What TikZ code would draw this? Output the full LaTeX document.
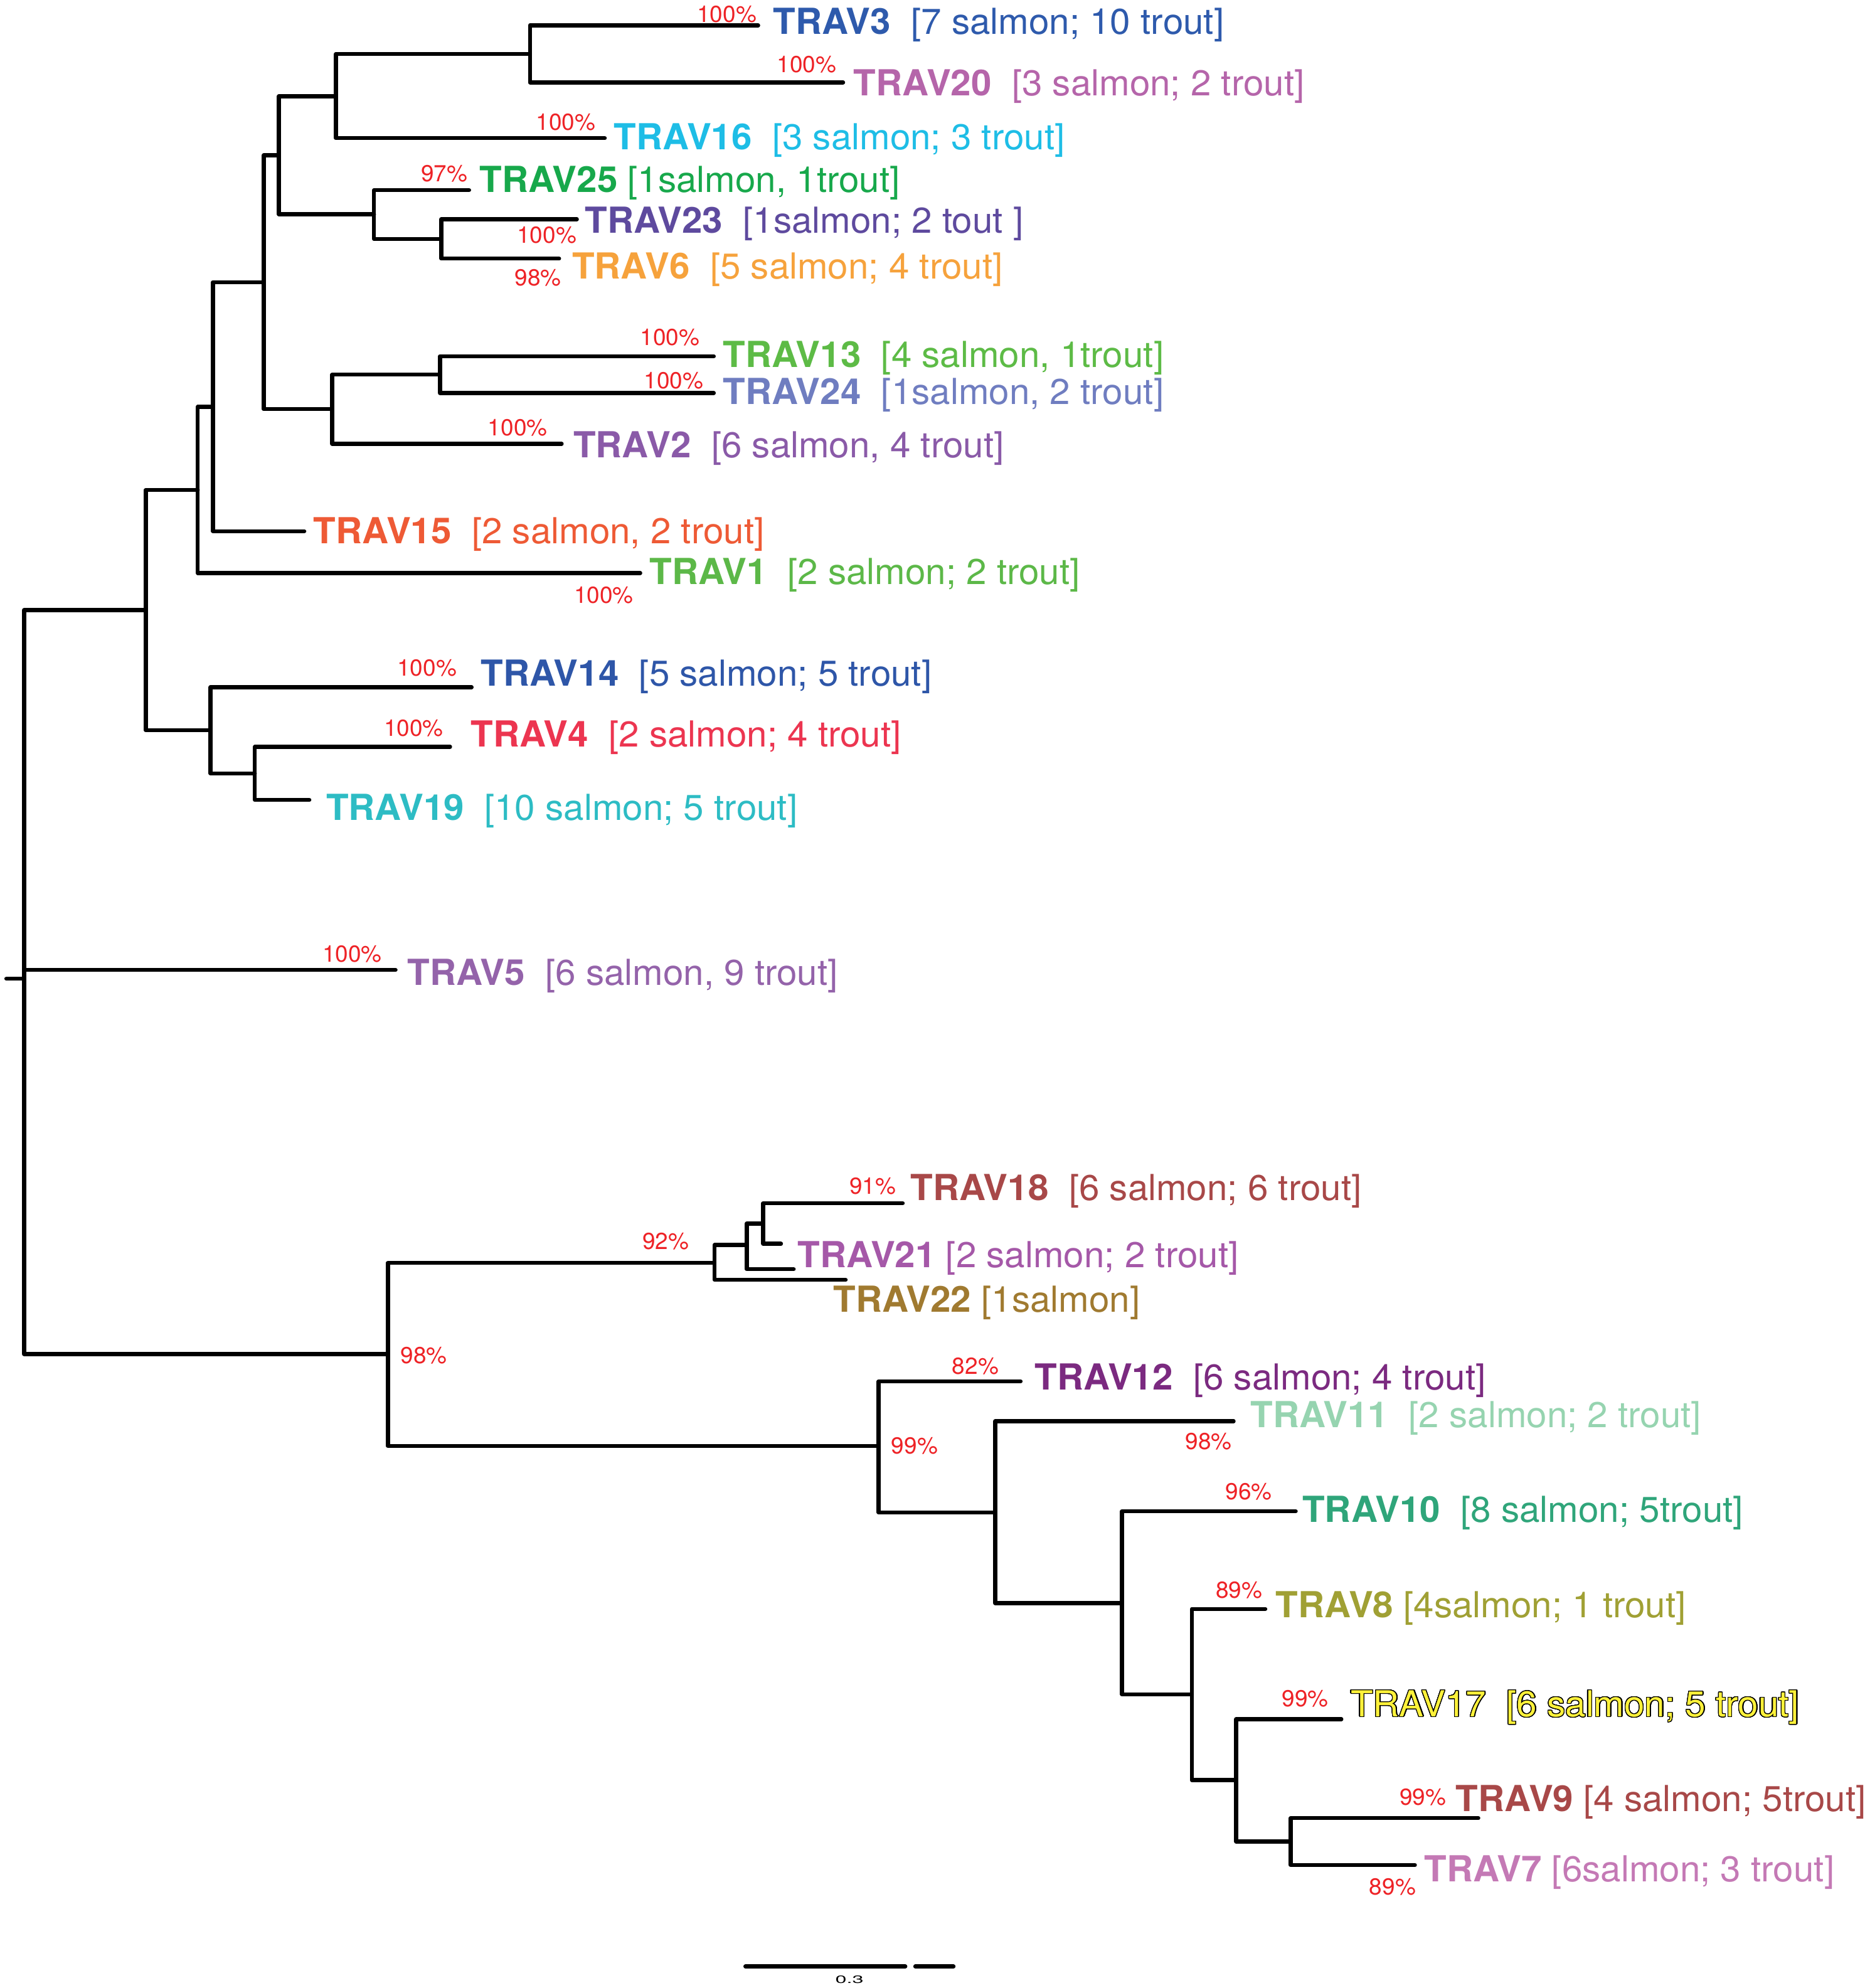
\documentclass[tikz,border=0pt]{standalone}
\usepackage{fontspec}
\setmainfont{TeX Gyre Heros}
\usepackage{contour}
\contourlength{0.35pt}
\contournumber{32}
\definecolor{pctred}{HTML}{EE2226}
\definecolor{cA}{HTML}{2E5AAC}
\definecolor{cB}{HTML}{B565AA}
\definecolor{cC}{HTML}{1EBDE6}
\definecolor{cD}{HTML}{17A84B}
\definecolor{cE}{HTML}{5E4A9E}
\definecolor{cF}{HTML}{F6A23C}
\definecolor{cG}{HTML}{5DBB46}
\definecolor{cH}{HTML}{6F7DC0}
\definecolor{cI}{HTML}{8A5AA8}
\definecolor{cJ}{HTML}{EE5A35}
\definecolor{cK}{HTML}{5CB848}
\definecolor{cL}{HTML}{2E56A8}
\definecolor{cM}{HTML}{EC3550}
\definecolor{cN}{HTML}{2DBCC4}
\definecolor{cO}{HTML}{9463AA}
\definecolor{cP}{HTML}{A84848}
\definecolor{cQ}{HTML}{A558A8}
\definecolor{cR}{HTML}{A07A30}
\definecolor{cS}{HTML}{7B2A80}
\definecolor{cT}{HTML}{96D4B0}
\definecolor{cU}{HTML}{2FA57A}
\definecolor{cV}{HTML}{A0A034}
\definecolor{cW}{HTML}{FFF23A}
\definecolor{cX}{HTML}{C479B5}
\tikzset{
  br/.style={line width=1.8pt, line cap=round, line join=round},
  lab/.style={anchor=base west, inner sep=0pt, xscale=1.02, font=\fontsize{16.1}{18}\selectfont},
  pct/.style={anchor=base east, inner sep=0pt, text=pctred, font=\fontsize{10.4}{12}\selectfont},
}
\begin{document}
\begin{tikzpicture}[x=0.02cm, y=-0.02cm]
\useasboundingbox (0,0) rectangle (1471,1568);
% ---------- coordinates: internal nodes ----------
\coordinate (rs) at (5,772);
\coordinate (root) at (19,772);
\coordinate (nM) at (115,481.2);
\coordinate (nJ) at (156,386.4);
\coordinate (nI) at (168,320.8);
\coordinate (nH) at (208,222.6);
\coordinate (nE) at (220,122.5);
\coordinate (nB) at (265,76);
\coordinate (nA) at (418,42.5);
\coordinate (nD) at (295,169);
\coordinate (nC) at (348,188.5);
\coordinate (nG) at (262,322.7);
\coordinate (nF) at (347,295.5);
\coordinate (nL) at (166,576);
\coordinate (nK) at (201,610);
\coordinate (nN) at (306,1068);
\coordinate (nO) at (563.5,996);
\coordinate (nP) at (589,982);
\coordinate (nQ) at (602,965);
\coordinate (nR) at (693,1140.5);
\coordinate (nS) at (785,1193);
\coordinate (nT) at (885,1264.5);
\coordinate (nU) at (940,1336.5);
\coordinate (nV) at (975,1404);
\coordinate (nW) at (1018,1452.5);
% ---------- coordinates: tips ----------
\coordinate (t3) at (598,20);
\coordinate (t20) at (665,65);
\coordinate (t16) at (477,109);
\coordinate (t25) at (370,150);
\coordinate (t23) at (455,173);
\coordinate (t6) at (441,204);
\coordinate (t13) at (563,281);
\coordinate (t24) at (563,310);
\coordinate (t2) at (443,350);
\coordinate (t15) at (240,419);
\coordinate (t1) at (505,452);
\coordinate (t14) at (372,542);
\coordinate (t4) at (355,589);
\coordinate (t19) at (244,631);
\coordinate (t5) at (312,765);
\coordinate (t18) at (712,949);
\coordinate (tx) at (616,981);
\coordinate (t21) at (626,1001);
\coordinate (t22) at (667,1009.5);
\coordinate (t12) at (805,1089.5);
\coordinate (t11) at (973,1121);
\coordinate (t10) at (1022,1192);
\coordinate (t8) at (998,1269);
\coordinate (t17) at (1058,1356);
\coordinate (t9) at (1166,1434);
\coordinate (t7) at (1116,1471);
% ---------- branches ----------
\draw[br] (rs) -- (root);
\draw[br] (root) |- (nM);
\draw[br] (root) |- (t5);
\draw[br] (root) |- (nN);
\draw[br] (nM) |- (nJ);
\draw[br] (nM) |- (nL);
\draw[br] (nJ) |- (nI);
\draw[br] (nJ) |- (t1);
\draw[br] (nI) |- (nH);
\draw[br] (nI) |- (t15);
\draw[br] (nH) |- (nE);
\draw[br] (nH) |- (nG);
\draw[br] (nE) |- (nB);
\draw[br] (nE) |- (nD);
\draw[br] (nB) |- (nA);
\draw[br] (nB) |- (t16);
\draw[br] (nA) |- (t3);
\draw[br] (nA) |- (t20);
\draw[br] (nD) |- (t25);
\draw[br] (nD) |- (nC);
\draw[br] (nC) |- (t23);
\draw[br] (nC) |- (t6);
\draw[br] (nG) |- (nF);
\draw[br] (nG) |- (t2);
\draw[br] (nF) |- (t13);
\draw[br] (nF) |- (t24);
\draw[br] (nL) |- (t14);
\draw[br] (nL) |- (nK);
\draw[br] (nK) |- (t4);
\draw[br] (nK) |- (t19);
\draw[br] (nN) |- (nO);
\draw[br] (nN) |- (nR);
\draw[br] (nO) |- (nP);
\draw[br] (nO) |- (t22);
\draw[br] (nP) |- (nQ);
\draw[br] (nP) |- (t21);
\draw[br] (nQ) |- (t18);
\draw[br] (nQ) |- (tx);
\draw[br] (nR) |- (t12);
\draw[br] (nR) |- (nS);
\draw[br] (nS) |- (t11);
\draw[br] (nS) |- (nT);
\draw[br] (nT) |- (t10);
\draw[br] (nT) |- (nU);
\draw[br] (nU) |- (t8);
\draw[br] (nU) |- (nV);
\draw[br] (nV) |- (t17);
\draw[br] (nV) |- (nW);
\draw[br] (nW) |- (t9);
\draw[br] (nW) |- (t7);
% ---------- leaf labels ----------
\node[lab, text=cA] (l3) at (609.5,27.1) {\textbf{TRAV3}~~[7 salmon; 10 trout]};
\node[lab, text=cB] (l20) at (673,75.4) {\textbf{TRAV20}~~[3 salmon; 2 trout]};
\node[lab, text=cC] (l16) at (484,117.9) {\textbf{TRAV16}~~[3 salmon; 3 trout]};
\node[lab, text=cD] (l25) at (378,151.9) {\textbf{TRAV25}~[1salmon, 1trout]};
\node[lab, text=cE] (l23) at (461,183.9) {\textbf{TRAV23}~~[1salmon; 2 tout~]};
\node[lab, text=cF] (l6) at (451,219.9) {\textbf{TRAV6}~~[5 salmon; 4 trout]};
\node[lab, text=cG] (l13) at (570,289.9) {\textbf{TRAV13}~~[4 salmon, 1trout]};
\node[lab, text=cH] (l24) at (570,318.9) {\textbf{TRAV24}~~[1salmon, 2 trout]};
\node[lab, text=cI] (l2) at (452,360.9) {\textbf{TRAV2}~~[6 salmon, 4 trout]};
\node[lab, text=cJ] (l15) at (247,428.9) {\textbf{TRAV15}~~[2 salmon, 2 trout]};
\node[lab, text=cK] (l1) at (512,460.9) {\textbf{TRAV1}~~[2 salmon; 2 trout]};
\node[lab, text=cL] (l14) at (379,540.9) {\textbf{TRAV14}~~[5 salmon; 5 trout]};
\node[lab, text=cM] (l4) at (371,588.9) {\textbf{TRAV4}~~[2 salmon; 4 trout]};
\node[lab, text=cN] (l19) at (257,646.9) {\textbf{TRAV19}~~[10 salmon; 5 trout]};
\node[lab, text=cO] (l5) at (321,776.9) {\textbf{TRAV5}~~[6 salmon, 9 trout]};
\node[lab, text=cP] (l18) at (718,946.9) {\textbf{TRAV18}~~[6 salmon; 6 trout]};
\node[lab, text=cQ] (l21) at (629,999.9) {\textbf{TRAV21}~[2 salmon; 2 trout]};
\node[lab, text=cR] (l22) at (657,1034.9) {\textbf{TRAV22}~[1salmon]};
\node[lab, text=cS] (l12) at (816,1096.4) {\textbf{TRAV12}~~[6 salmon; 4 trout]};
\node[lab, text=cT] (l11) at (986,1125.9) {\textbf{TRAV11}~~[2 salmon; 2 trout]};
\node[lab, text=cU] (l10) at (1027,1200.4) {\textbf{TRAV10}~~[8 salmon; 5trout]};
\node[lab, text=cV] (l8) at (1006,1275.9) {\textbf{TRAV8}~[4salmon; 1 trout]};
\node[lab, text=cW] (l17) at (1065,1353.9) {\contour{black}{TRAV17~~[6 salmon; 5 trout]}};
\node[lab, text=cP] (l9) at (1148,1428.9) {\textbf{TRAV9}~[4 salmon; 5trout]};
\node[lab, text=cX] (l7) at (1123,1483.9) {\textbf{TRAV7}~[6salmon; 3 trout]};
% ---------- support values ----------
\node[pct] (p3) at (597,17.6) {100\%};
\node[pct] (p20) at (660,57) {100\%};
\node[pct] (p16) at (470,102.6) {100\%};
\node[pct] (p25) at (369,143.1) {97\%};
\node[pct] (p23) at (455,191.6) {100\%};
\node[pct] (p6) at (443,225.6) {98\%};
\node[pct] (p13) at (552,272.6) {100\%};
\node[pct] (p24) at (555,306.6) {100\%};
\node[pct] (p2) at (432,343.6) {100\%};
\node[pct] (p1) at (500,475.6) {100\%};
\node[pct] (p14) at (360.5,533.2) {100\%};
\node[pct] (p4) at (350,580.6) {100\%};
\node[pct] (p5) at (301.5,758.6) {100\%};
\node[pct] (p18) at (707,941.6) {91\%};
\node[pct] (pO) at (543.7,985.6) {92\%};
\node[pct] (pN) at (353,1075.6) {98\%};
\node[pct] (p12) at (788,1083.6) {82\%};
\node[pct] (pR) at (740,1146.6) {99\%};
\node[pct] (p11) at (972,1143.1) {98\%};
\node[pct] (p10) at (1003.5,1182.6) {96\%};
\node[pct] (p8) at (996,1260.6) {89\%};
\node[pct] (p17) at (1048,1346) {99\%};
\node[pct] (p9) at (1141,1423.6) {99\%};
\node[pct] (p7) at (1117,1494.6) {89\%};
% ---------- scale bar ----------
\coordinate (sb1) at (588,1551);
\coordinate (sb2) at (714,1551);
\coordinate (sb3) at (722,1551);
\coordinate (sb4) at (752,1551);
\draw[br, line width=1.9pt] (sb1) -- (sb2);
\draw[br, line width=1.9pt] (sb3) -- (sb4);
\node[inner sep=0pt, xscale=1.9, font=\fontsize{4.8}{6}\selectfont] (sbl) at (670,1561.5) {0.3};
\end{tikzpicture}
\end{document}
